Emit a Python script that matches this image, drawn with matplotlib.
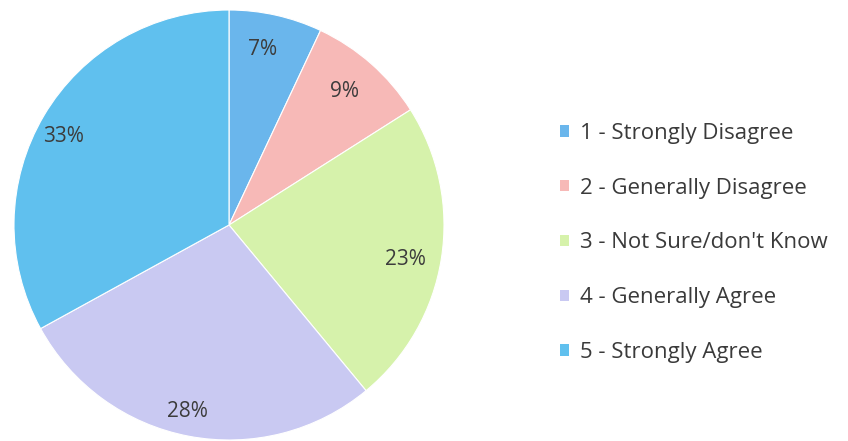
import matplotlib.pyplot as plt
from matplotlib.patches import Patch

labels = ['1 - Strongly Disagree', '2 - Generally Disagree', "3 - Not Sure/don't Know",
          '4 - Generally Agree', '5 - Strongly Agree']
values = [7, 9, 23, 28, 33]
colors = ['#6ab6ec', '#f7b9b7', '#d6f2ab', '#c9c9f2', '#60c0ee']

plt.rcParams['font.family'] = ['Open Sans', 'DejaVu Sans']

fig = plt.figure(figsize=(8.48, 4.41), dpi=100)
ax = fig.add_axes([14 / 848, 1 / 441, 430 / 848, 430 / 441])

wedges, texts, autotexts = ax.pie(
    values, colors=colors, startangle=90, counterclock=False, radius=1,
    autopct='%d%%', pctdistance=0.86,
    wedgeprops=dict(edgecolor='white', linewidth=0.8),
    textprops=dict(color='#3c3c3c', fontsize=15))
# labels sit a bit lower/left in the original
for t in autotexts:
    x, y = t.get_position()
    t.set_position((x - 0.03, y - 0.025))
ax.set_xlim(-1, 1)
ax.set_ylim(-1, 1)
ax.set_aspect('equal')
ax.axis('off')

handles = [Patch(facecolor=c, edgecolor='none') for c in colors]
fig.legend(handles, labels, loc='upper left', bbox_to_anchor=(551 / 848, 1 - 114 / 441),
           frameon=False, fontsize=16, labelcolor='#3a3a3a',
           handlelength=0.4, handleheight=0.4, handletextpad=0.5,
           labelspacing=1.52, borderaxespad=0)

fig.savefig('out.png', dpi=100, facecolor='white')
